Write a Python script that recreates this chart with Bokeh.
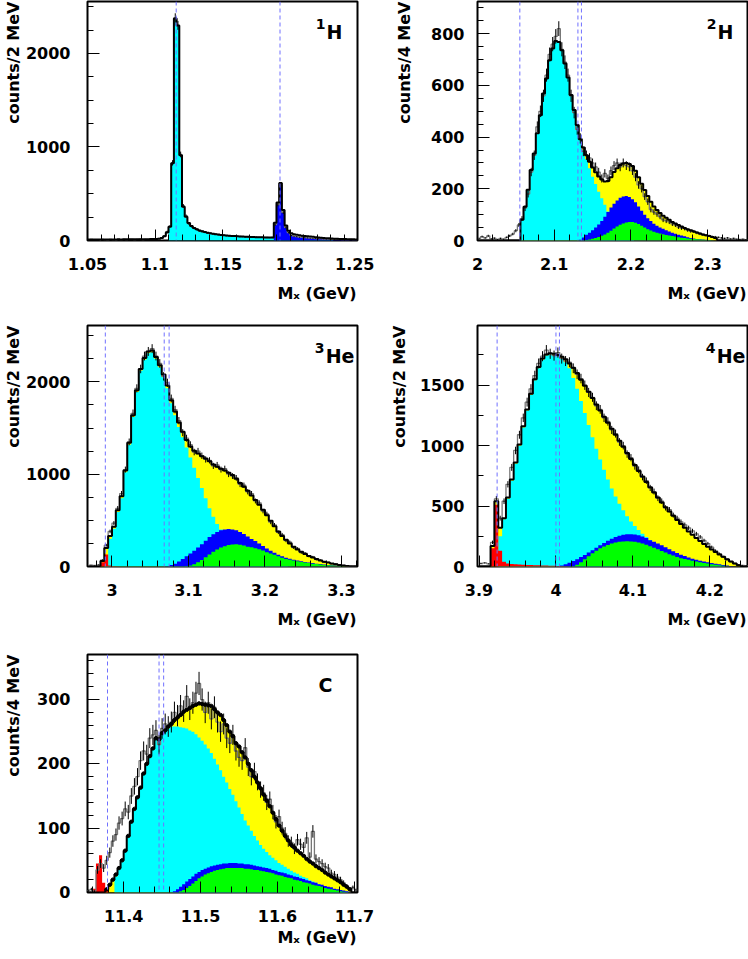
import numpy as np
from bokeh.plotting import figure
from bokeh.models import Range1d, FixedTicker, Span, Label, NumeralTickFormatter, Title
from bokeh.layouts import column, row
from bokeh.embed import file_html
from bokeh.resources import INLINE

# ---------------- 1H : 2 MeV bins ----------------
H1_start, H1_width = 1.050, 0.002
H1_data = [9, 12, 7, 10, 8, 13, 9, 6, 11, 10, 8, 12, 9, 11, 10, 13, 11, 9, 12, 14, 10, 13, 11, 15, 13,
           16, 22, 30, 48, 95,
           150, 830, 2380, 2300, 920, 370, 262, 182, 152, 132,
           118, 104, 96, 88, 81, 76, 70, 67, 62, 58,
           56, 52, 50, 48, 46, 44, 43, 41, 40, 38,
           37, 36, 36, 34, 33, 33, 32, 31, 32, 170,
           385, 595, 300, 140, 85, 55, 46, 42, 36, 38,
           31, 28, 25, 23, 21, 19, 18, 16, 15, 14,
           13, 12, 12, 11, 10, 10, 9, 12, 10, 9]
H1_fit = [10, 11, 10, 11, 11, 12, 11, 12, 12, 12, 12, 13, 12, 13, 13, 13, 13, 14, 13, 14, 14, 14, 14, 15, 15,
          16, 20, 28, 45, 85,
          148, 826, 2372, 2298, 912, 362, 255, 186, 155, 134,
          120, 108, 99, 91, 84, 78, 73, 68, 64, 60,
          57, 54, 52, 49, 47, 45, 43, 42, 40, 39,
          38, 37, 36, 35, 34, 33, 33, 32, 32, 190,
          405, 615, 325, 160, 105, 78, 67, 61, 56, 52,
          48, 45, 42, 39, 36, 33, 30, 27, 25, 23,
          21, 19, 18, 17, 16, 15, 14, 13, 13, 12]
H1_cyan_first = 30
H1_cyan = [140, 820, 2360, 2290, 900, 352, 245, 178, 147, 127, 112, 100, 92, 85, 78, 72, 67, 63, 59, 56,
           53, 50, 48, 46, 44, 42, 40, 39, 38, 36, 35, 34, 33, 32, 31, 30, 29, 28, 28, 27,
           26, 26, 25, 24, 24, 23, 22, 21, 20, 19, 18, 17, 16, 15, 14, 13, 12, 11, 10, 9, 8]
H1_blue_first = 69
H1_blue = [165, 380, 590, 300, 135, 80, 55, 45, 40, 36, 33, 30, 28, 26, 24, 22, 20, 18, 16, 14,
           12, 11, 10, 9, 8, 7, 6, 5, 4, 3, 2]
H1_lines = [1.1157, 1.1926]

# ---------------- 2H : 4 MeV bins ----------------
H2_start, H2_width = 2.000, 0.004
H2_data = [8, 15, 10, 18, 6, 9, 4, 8, 5, 12,
           18, 25, 38, 60, 85, 125, 180, 265, 330, 440,
           500, 560, 640, 720, 760, 790, 820, 740, 690, 640,
           560, 495, 430, 395, 345, 330, 320, 300, 285, 265,
           240, 260, 240, 270, 290, 300, 285, 300, 290, 285,
           270, 245, 215, 200, 170, 150, 120, 110, 102, 92,
           80, 76, 72, 64, 60, 52, 48, 46, 40, 36,
           35, 30, 26, 22, 20, 18, 15, 14, 12, 10,
           8, 10, 6, 8, 5, 4, 5, 3]
H2_fit_first = 14
H2_fit = [80, 131, 196, 273, 337, 415, 485, 569, 627, 698,
          743, 772, 768, 736, 685, 631, 563, 505, 447, 392,
          360, 330, 305, 283, 264, 248, 236, 228, 230, 245,
          265, 280, 292, 298, 300, 296, 288, 270, 245, 220,
          195, 172, 150, 132, 118, 106, 96, 88, 80, 72,
          66, 60, 54, 48, 44, 40, 35, 31, 27, 23,
          20, 17, 14, 10]
H2_cyan_first = 14
H2_cyan = [78, 129, 194, 271, 335, 413, 483, 567, 625, 696,
           741, 770, 766, 734, 683, 629, 561, 503, 445, 389,
           350, 314, 280, 247, 219, 189, 164, 138, 112, 86,
           60, 40, 25, 15, 8, 4, 2]
H2_blue_first = 33
H2_blue = [3, 12, 22, 30, 40, 50, 62, 75, 92, 110,
           128, 142, 155, 165, 170, 172, 168, 160, 148, 132,
           115, 100, 86, 75, 65, 57, 50, 45, 40, 35,
           30, 26, 22, 19, 16, 13, 10, 8, 6, 5,
           4, 3, 2, 1]
H2_green_first = 35
H2_green = [2, 4, 7, 10, 14, 18, 23, 30, 38, 46,
            54, 61, 66, 70, 72, 72, 69, 64, 57, 50,
            44, 39, 34, 30, 27, 24, 21, 19, 17, 15,
            13, 11, 10, 8, 7, 6, 5, 4, 3, 2, 2, 1]
H2_lines = [2.0552, 2.1309, 2.1355]

# ---------------- 3He : 5 MeV bins ----------------
He3_start, He3_width = 2.970, 0.005
He3_data = [15, 12, 18, 70, 230, 380, 470, 630, 790, 1050,
            1350, 1660, 1930, 2140, 2280, 2330, 2360, 2280, 2200, 2060,
            1990, 1820, 1700, 1580, 1450, 1390, 1320, 1240, 1250, 1200,
            1160, 1150, 1090, 1100, 1050, 1060, 1000, 980, 960, 890,
            880, 810, 790, 710, 690, 600, 570, 480, 450, 370,
            345, 280, 265, 205, 195, 150, 145, 110, 105, 75,
            70, 48, 45, 30, 28, 16, 12, 8, 5, 4]
He3_fit_first = 0
He3_fit = [0, 0, 0, 60, 200, 330, 430, 610, 760, 1040,
           1340, 1640, 1910, 2140, 2260, 2330, 2340, 2270, 2180, 2080,
           1960, 1800, 1680, 1560, 1460, 1370, 1300, 1255, 1225, 1195,
           1170, 1140, 1105, 1080, 1060, 1040, 1015, 990, 950, 905,
           865, 820, 770, 720, 670, 615, 555, 495, 435, 380,
           330, 290, 250, 215, 185, 160, 135, 115, 97, 80,
           65, 52, 42, 32, 24, 17, 10, 5, 0, 0]
He3_cyan_first = 4
He3_cyan = [20, 300, 410, 590, 740, 1020, 1320, 1620, 1890, 2120,
            2240, 2310, 2320, 2250, 2160, 2050, 1930, 1770, 1640, 1510,
            1400, 1290, 1180, 1070, 960, 850, 740, 630, 540, 460,
            400, 345, 300, 255, 215, 180, 150, 125, 100, 80,
            62, 48, 36, 27, 20, 14, 10, 6, 3]
He3_blue_first = 20
He3_blue = [5, 15, 30, 55, 80, 110, 140, 170, 205, 240,
            280, 320, 350, 375, 392, 400, 405, 402, 392, 375,
            352, 325, 298, 275, 250, 222, 195, 170, 148, 128,
            110, 95, 83, 73, 65, 57, 50, 43, 37, 31,
            26, 21, 17, 13, 10, 7, 4, 2]
He3_green_first = 25
He3_green = [3, 10, 25, 45, 70, 100, 130, 160, 185, 205,
             220, 232, 238, 240, 236, 228, 215, 208, 198, 188,
             172, 155, 140, 128, 112, 96, 82, 72, 64, 57,
             50, 43, 37, 31, 26, 21, 17, 13, 10, 7,
             5, 3, 1]
He3_red_first = 2
He3_red = [5, 45, 130, 12, 6, 4]
He3_lines = [2.9913, 3.0683, 3.0747]

# ---------------- 4He : 5 MeV bins ----------------
He4_start, He4_width = 3.900, 0.005
He4_data = [25, 30, 22, 200, 560, 400, 540, 680, 820, 960,
            1090, 1230, 1360, 1470, 1580, 1680, 1740, 1790, 1760, 1745,
            1770, 1720, 1700, 1690, 1640, 1590, 1555, 1500, 1440, 1400,
            1330, 1300, 1230, 1200, 1130, 1100, 1030, 1000, 930, 900,
            830, 800, 740, 710, 650, 620, 565, 540, 485, 470,
            425, 400, 370, 345, 320, 295, 270, 245, 215, 190,
            160, 130, 105, 80, 58, 40, 25, 15, 10, 8]
He4_fit_first = 0
He4_fit = [0, 0, 0, 170, 540, 320, 400, 570, 720, 860,
           1010, 1160, 1300, 1430, 1550, 1650, 1720, 1755, 1765, 1760,
           1750, 1735, 1715, 1680, 1645, 1600, 1545, 1495, 1445, 1395,
           1340, 1290, 1240, 1190, 1140, 1090, 1040, 990, 940, 890,
           840, 790, 745, 700, 655, 612, 570, 530, 490, 455,
           420, 385, 352, 320, 290, 262, 235, 210, 186, 163,
           141, 120, 100, 80, 61, 42, 25, 10, 0, 0]
He4_cyan_first = 5
He4_cyan = [250, 390, 560, 710, 850, 1000, 1150, 1290, 1420, 1540,
            1640, 1710, 1745, 1755, 1750, 1740, 1720, 1690, 1640, 1560,
            1470, 1370, 1270, 1170, 1070, 975, 885, 800, 720, 645,
            580, 520, 465, 415, 372, 335, 302, 272, 245, 220,
            195, 172, 150, 130, 112, 96, 82, 70, 59, 49,
            40, 32, 25, 19, 14, 10, 7, 4, 2, 1]
He4_blue_first = 20
He4_blue = [2, 8, 18, 30, 45, 60, 78, 96, 115, 135,
            155, 175, 195, 213, 230, 245, 255, 262, 266, 267,
            265, 258, 248, 235, 218, 204, 190, 175, 160, 143,
            127, 112, 98, 86, 75, 65, 56, 48, 41, 35,
            29, 23, 18, 13, 9, 5, 2]
He4_green_first = 24
He4_green = [3, 15, 35, 60, 85, 110, 130, 150, 165, 178,
             190, 198, 204, 207, 208, 207, 204, 198, 190, 180,
             168, 155, 142, 128, 115, 102, 90, 79, 69, 62,
             55, 48, 41, 35, 29, 24, 19, 14, 10, 6,
             3, 1]
He4_red_first = 3
He4_red = [150, 510, 130, 40, 25, 20, 18, 16, 14, 13, 12, 11, 10, 9, 8, 7, 6, 5, 4, 3]
He4_lines = [3.9235, 4.0000, 4.0045]

# ---------------- C : 4 MeV bins ----------------
C_start, C_width = 11.352, 0.004
C_data = [3, 5, 2, 35, 45, 38, 50, 62, 80, 90,
          108, 115, 130, 125, 150, 165, 180, 205, 220, 215,
          240, 245, 252, 230, 255, 262, 258, 265, 280, 275,
          290, 282, 305, 285, 295, 310, 325, 300, 280, 295,
          270, 288, 265, 250, 262, 240, 232, 245, 220, 210,
          205, 225, 195, 180, 188, 172, 160, 155, 140, 145,
          125, 110, 118, 100, 92, 80, 78, 68, 82, 75,
          70, 85, 55, 95, 52, 48, 45, 40, 38, 30,
          28, 24, 20, 15, 10, 6, 8, 4]
C_fit_first = 6
C_fit = [5, 12, 20, 28, 38, 50, 65, 88, 110, 130,
         148, 163, 185, 200, 212, 224, 240, 238, 248, 252,
         258, 262, 268, 272, 276, 281, 284, 287, 290, 292,
         294, 293, 292, 291, 290, 285, 280, 276, 268, 260,
         250, 243, 232, 227, 218, 210, 200, 190, 180, 171,
         162, 152, 143, 134, 124, 114, 104, 96, 88, 81,
         74, 70, 65, 61, 57, 52, 48, 45, 41, 38,
         35, 31, 28, 25, 22, 19, 16, 12, 9, 5]
C_cyan_first = 9
C_cyan = [25, 36, 48, 63, 86, 108, 128, 146, 161, 183,
          198, 210, 222, 238, 236, 246, 250, 255, 258, 258,
          258, 257, 256, 255, 252, 250, 246, 241, 236, 230,
          224, 217, 208, 199, 190, 180, 171, 161, 152, 142,
          132, 122, 112, 104, 96, 88, 81, 74, 68, 63,
          58, 54, 50, 46, 43, 40, 37, 34, 31, 29,
          26, 24, 22, 19, 17, 15, 13, 11, 10, 8,
          7, 5, 4, 3, 2, 1]
C_blue_first = 28
C_blue = [2, 5, 9, 13, 17, 21, 25, 29, 32, 35,
          37, 39, 41, 42, 43, 44, 45, 45, 46, 46,
          46, 45, 45, 44, 44, 43, 42, 41, 40, 39,
          38, 37, 35, 34, 32, 31, 30, 28, 27, 25,
          24, 22, 21, 19, 18, 16, 15, 13, 12, 10,
          9, 8, 6, 5, 4, 3, 2, 1]
C_green_first = 30
C_green = [2, 4, 7, 10, 14, 18, 22, 25, 28, 30,
           32, 34, 35, 36, 37, 38, 38, 38, 38, 38,
           38, 37, 37, 36, 35, 35, 34, 33, 32, 31,
           30, 28, 27, 26, 24, 23, 22, 20, 19, 18,
           16, 15, 14, 12, 11, 10, 9, 7, 6, 5,
           4, 3, 2, 1]
C_red_first = 2
C_red = [6, 45, 58, 15, 4]
C_lines = [11.379, 11.446, 11.452]

FONT = "DejaVu Sans"
COLORS = {"cyan": "#00ffff", "blue": "#0000ff", "green": "#00ff00", "red": "#ff0000"}


def pad(first, vals, n):
    arr = np.zeros(n)
    arr[first:first + len(vals)] = vals
    return arr


panels = [
    dict(sup="1", elem="H", ytitle="counts/2 MeV", start=H1_start, width=H1_width, data=H1_data,
         fit=(0, H1_fit), comps={"cyan": (H1_cyan_first, H1_cyan), "blue": (H1_blue_first, H1_blue)},
         yellow=False, lines=H1_lines, xr=(1.05, 1.25), ymax=2555,
         xmaj=[1.05, 1.1, 1.15, 1.2, 1.25], xmin_step=0.01, ymaj=[0, 1000, 2000], ymin_step=250,
         lab_dx=15, dots=False, ystand=17, ytstand=0, ypadlab=None),
    dict(sup="2", elem="H", ytitle="counts/4 MeV", start=H2_start, width=H2_width, data=H2_data,
         fit=(H2_fit_first, H2_fit),
         comps={"cyan": (H2_cyan_first, H2_cyan), "blue": (H2_blue_first, H2_blue),
                "green": (H2_green_first, H2_green)},
         yellow=True, lines=H2_lines, xr=(2.0, 2.352), ymax=925,
         xmaj=[2.0, 2.1, 2.2, 2.3], xmin_step=0.02, ymaj=[0, 200, 400, 600, 800], ymin_step=50,
         lab_dx=14, dots=False, ystand=13, ytstand=30, ypadlab=None),
    dict(sup="3", elem="He", ytitle="counts/2 MeV", start=He3_start, width=He3_width, data=He3_data,
         fit=(He3_fit_first, He3_fit),
         comps={"cyan": (He3_cyan_first, He3_cyan), "blue": (He3_blue_first, He3_blue),
                "green": (He3_green_first, He3_green), "red": (He3_red_first, He3_red)},
         yellow=True, lines=He3_lines, xr=(2.968, 3.321), ymax=2611,
         xmaj=[3.0, 3.1, 3.2, 3.3], xmin_step=0.02, ymaj=[0, 1000, 2000], ymin_step=250,
         lab_dx=3, dots=False, ystand=17, ytstand=0, ypadlab=None),
    dict(sup="4", elem="He", ytitle="counts/2 MeV", start=He4_start, width=He4_width, data=He4_data,
         fit=(He4_fit_first, He4_fit),
         comps={"cyan": (He4_cyan_first, He4_cyan), "blue": (He4_blue_first, He4_blue),
                "green": (He4_green_first, He4_green), "red": (He4_red_first, He4_red)},
         yellow=True, lines=He4_lines, xr=(3.898, 4.249), ymax=1994,
         xmaj=[3.9, 4.0, 4.1, 4.2], xmin_step=0.02, ymaj=[0, 500, 1000, 1500], ymin_step=250,
         lab_dx=2, dots=False, ystand=13, ytstand=16, ypadlab=None),
    dict(sup="", elem="C", ytitle="counts/4 MeV", start=C_start, width=C_width, data=C_data,
         fit=(C_fit_first, C_fit),
         comps={"cyan": (C_cyan_first, C_cyan), "blue": (C_blue_first, C_blue),
                "green": (C_green_first, C_green), "red": (C_red_first, C_red)},
         yellow=True, lines=C_lines, xr=(11.353, 11.704), ymax=370,
         xmaj=[11.4, 11.5, 11.6, 11.7], xmin_step=0.02, ymaj=[0, 100, 200, 300], ymin_step=20,
         lab_dx=25, dots=True, ystand=17, ytstand=0, ypadlab=300),
]

ELEM_W = {"H": 16, "He": 29, "C": 15}


def make_panel(sp, width, height, bl, br, bt, bb, xts):
    data = np.asarray(sp["data"], float)
    n = len(data)
    edges = sp["start"] + sp["width"] * np.arange(n + 1)
    centers = edges[:-1] + sp["width"] / 2
    fit = pad(sp["fit"][0], sp["fit"][1], n)
    x0, x1 = sp["xr"]
    p = figure(width=width, height=height, x_range=Range1d(x0, x1), y_range=Range1d(0, sp["ymax"]),
               output_backend="svg", toolbar_location=None,
               min_border_left=bl, min_border_right=br, min_border_top=bt, min_border_bottom=bb)
    p.xgrid.visible = False
    p.ygrid.visible = False
    p.outline_line_color = "black"
    p.outline_line_width = 2
    p.background_fill_color = "white"
    p.border_fill_color = "white"
    zeros = np.zeros(n + 1)

    def fill(arr, color):
        p.varea_step(x=edges, y1=zeros, y2=np.append(arr, arr[-1]), step_mode="after",
                     fill_color=color, fill_alpha=1.0)

    if sp["yellow"]:
        fill(fit, "#ffff00")
    for key in ["cyan", "blue", "green", "red"]:
        if key in sp["comps"]:
            f, v = sp["comps"][key]
            fill(pad(f, v, n), COLORS[key])

    # data histogram + error bars
    p.step(x=edges, y=np.append(data, data[-1]), mode="after", line_color="#777777", line_width=1.3)
    err = np.sqrt(np.maximum(data, 0))
    p.segment(x0=centers, y0=data - err, x1=centers, y1=data + err, line_color="black", line_width=1)
    # fit
    p.step(x=edges, y=np.append(fit, fit[-1]), mode="after", line_color="black", line_width=2)
    if sp["dots"]:
        m = fit > 0
        p.scatter(centers[m], fit[m], size=3.5, color="black")

    for loc in sp["lines"]:
        p.add_layout(Span(location=loc, dimension="height", line_color="#7070ff",
                          line_dash="4 3", line_width=1))

    # axes
    xmin_ticks = list(np.round(np.arange(np.ceil(x0 / sp["xmin_step"] - 1e-6) * sp["xmin_step"],
                                         x1 + 1e-9, sp["xmin_step"]), 4))
    ymin_ticks = list(np.arange(0, sp["ymax"] + 1e-9, sp["ymin_step"]))
    p.xaxis.ticker = FixedTicker(ticks=sp["xmaj"], minor_ticks=xmin_ticks)
    p.yaxis.ticker = FixedTicker(ticks=sp["ymaj"], minor_ticks=ymin_ticks)
    for ax in (p.xaxis[0], p.yaxis[0]):
        ax.formatter = NumeralTickFormatter(format="0.[00]")
        ax.axis_line_color = None
        ax.major_tick_out = 0
        ax.minor_tick_out = 0
        ax.minor_tick_in = 6
        ax.major_tick_line_color = "black"
        ax.minor_tick_line_color = "black"
        ax.major_label_text_font = FONT
        ax.major_label_text_font_style = "bold"
        ax.major_label_text_font_size = "16px"
        ax.major_label_text_color = "black"
    p.xaxis[0].major_tick_in = 11
    p.yaxis[0].major_tick_in = 12
    p.xaxis[0].major_label_standoff = 17
    p.yaxis[0].major_label_standoff = sp["ystand"]
    if sp["ypadlab"] is not None:
        # figure-space padding keeps the digits in place but aligns the axis title with the other panels
        p.yaxis[0].major_label_overrides = {sp["ypadlab"]: "\u2007" + str(sp["ypadlab"])}

    # axis titles (right / top aligned as in the original)
    p.add_layout(Title(text="Mₓ (GeV)", align="right", text_font=FONT, text_font_style="bold",
                       text_font_size="16px", text_color="black", standoff=xts, offset=1), "below")
    p.add_layout(Title(text=sp["ytitle"], align="right", text_font=FONT, text_font_style="bold",
                       text_font_size="16px", text_color="black", standoff=sp["ytstand"], offset=0), "left")

    # nucleus label, anchored at the top-right corner of the frame
    p.add_layout(Label(x=x1, y=sp["ymax"], x_offset=-sp["lab_dx"], y_offset=-30,
                       text=sp["elem"], text_align="right", text_baseline="alphabetic",
                       text_font=FONT, text_font_style="bold", text_font_size="19px",
                       text_color="black"))
    if sp["sup"]:
        p.add_layout(Label(x=x1, y=sp["ymax"], x_offset=-sp["lab_dx"] - ELEM_W[sp["elem"]] - 1,
                           y_offset=-22, text=sp["sup"], text_align="right", text_baseline="alphabetic",
                           text_font=FONT, text_font_style="bold", text_font_size="14px",
                           text_color="black"))
    return p


W = 374
p1 = make_panel(panels[0], W, 322, 87, 17, 1, 82, 18)
p2 = make_panel(panels[1], W, 322, 103, 1, 1, 82, 18)
p3 = make_panel(panels[2], W, 326, 87, 17, 3, 82, 18)
p4 = make_panel(panels[3], W, 326, 103, 1, 3, 82, 18)
p5 = make_panel(panels[4], W, 310, 87, 17, 6, 66, 3)

layout = column(row(p1, p2), row(p3, p4), p5)
open("out.html", "w").write(file_html(layout, INLINE))
